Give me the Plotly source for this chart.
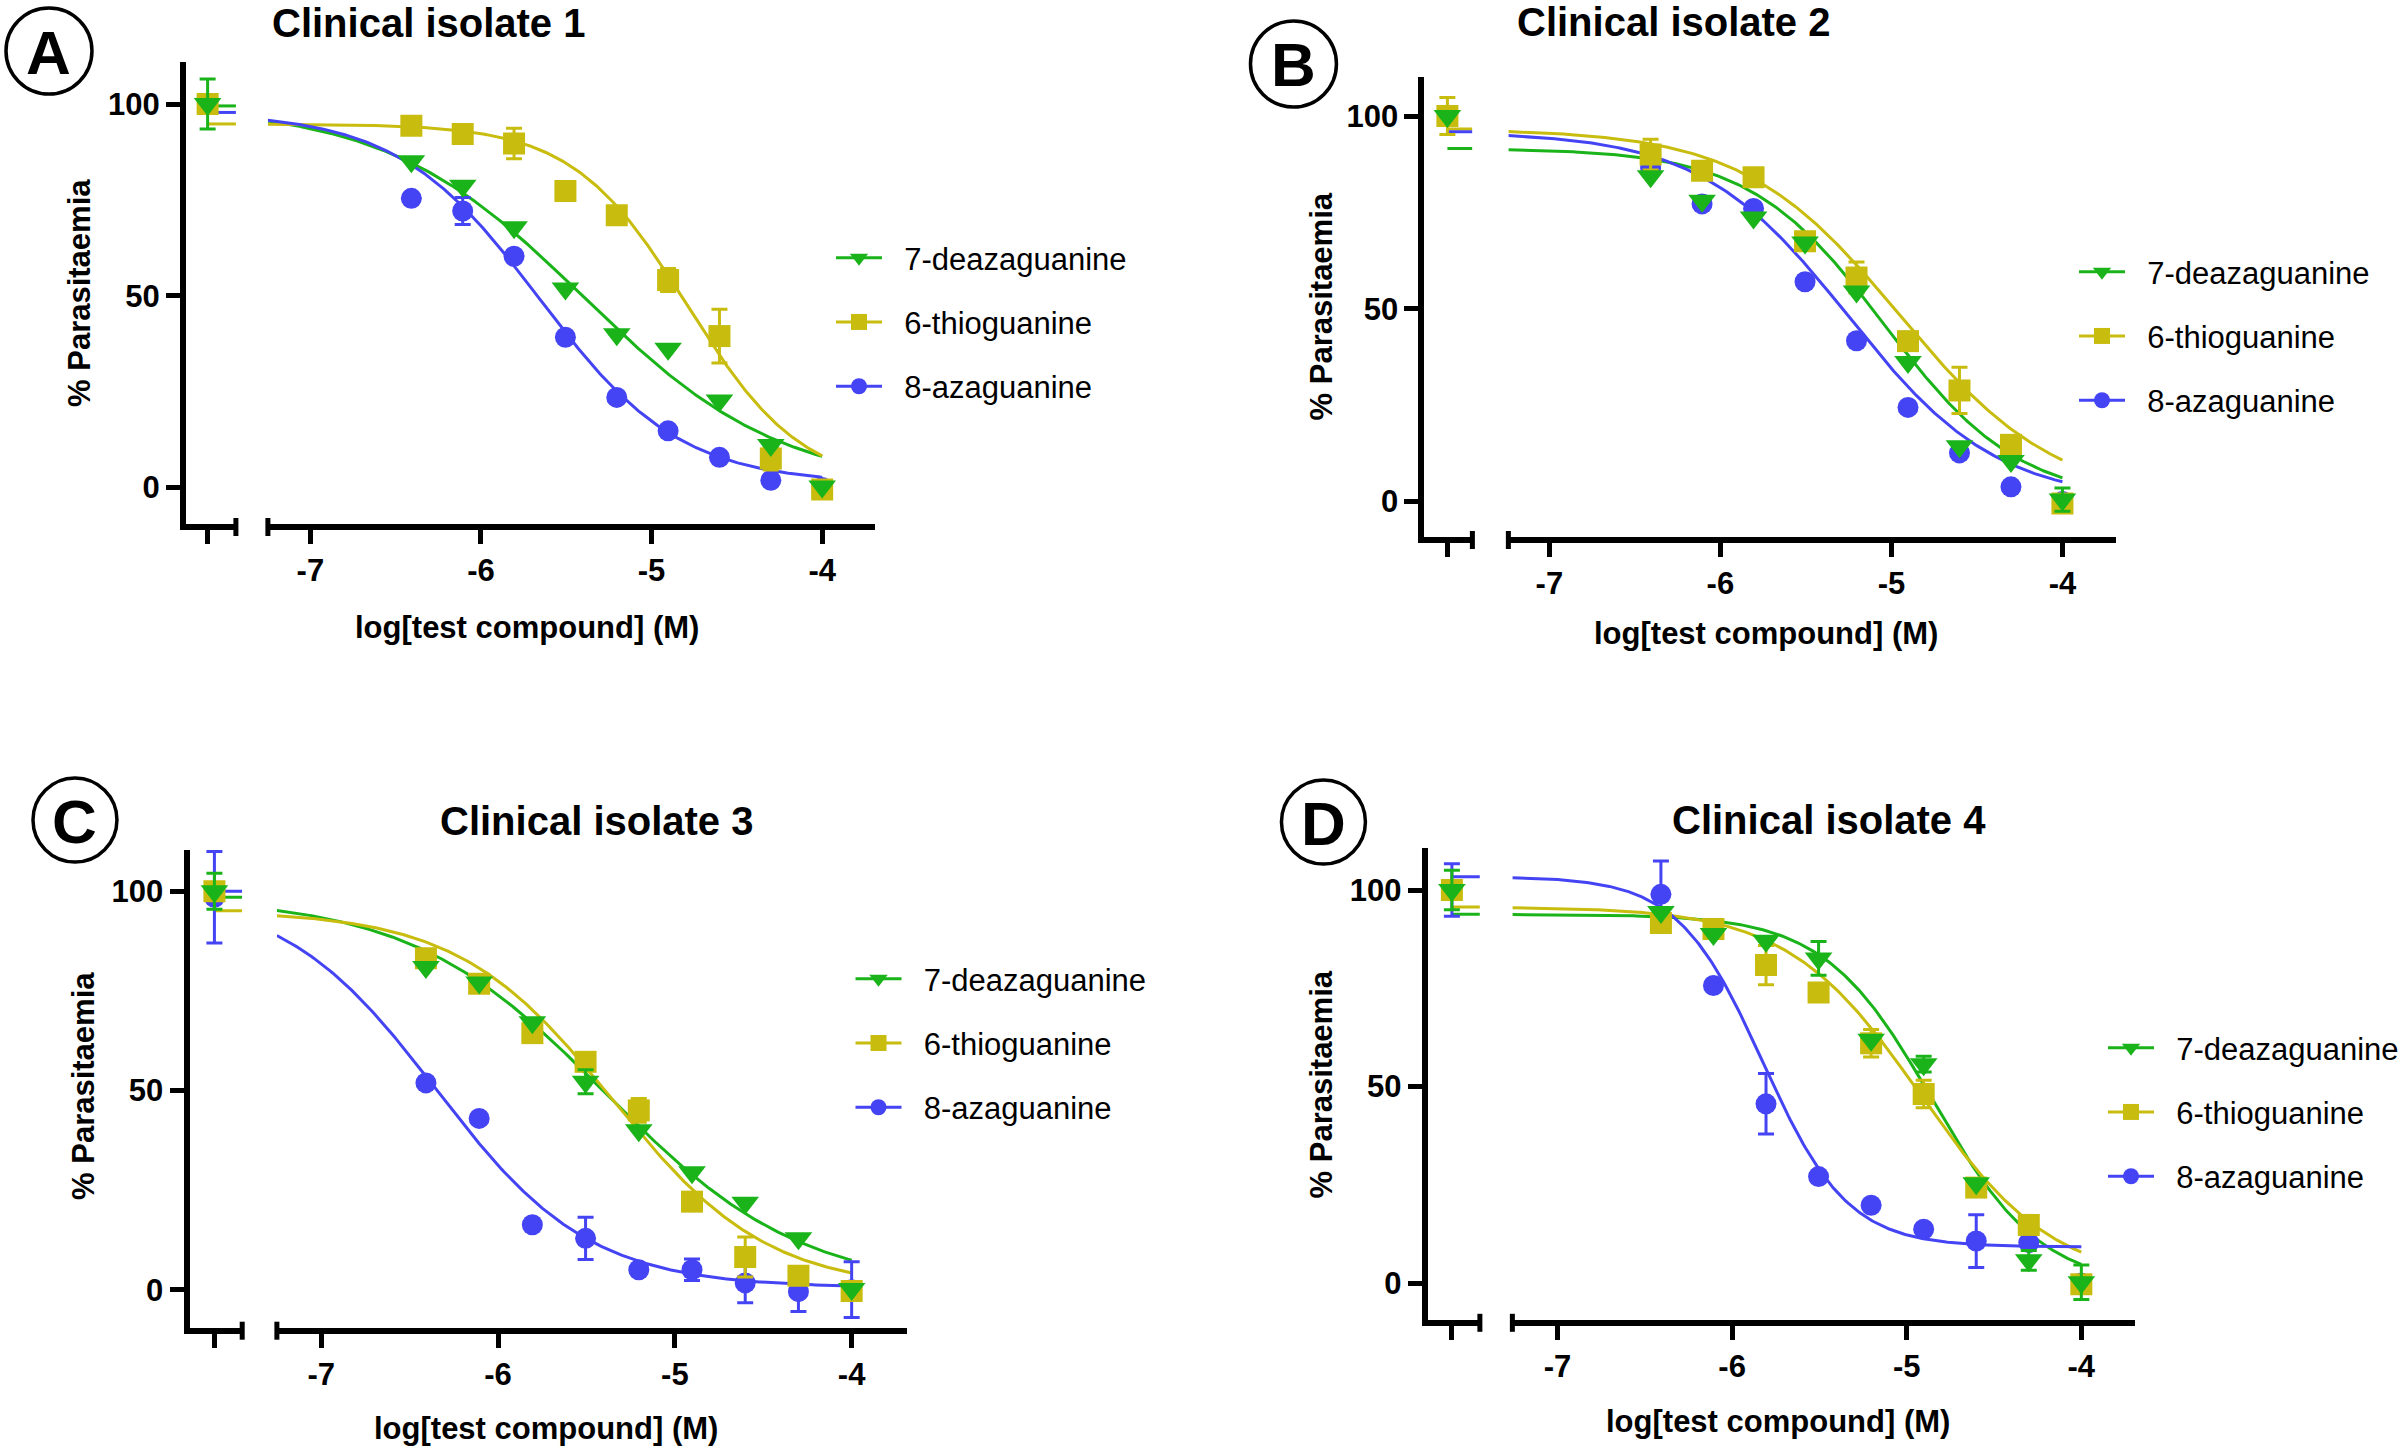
import numpy as np
import plotly.graph_objects as go

W, H = 2404, 1451

# ---------------- data ----------------
log_conc = [-6.408, -6.107, -5.806, -5.505, -5.204, -4.903, -4.602, -4.301, -4.000]
x_ticks = [-7, -6, -5, -4]
x_tick_text = ["-7", "-6", "-5", "-4"]
y_ticks = [0, 50, 100]
compounds = ["7-deazaguanine", "6-thioguanine", "8-azaguanine"]
colors = ["#1AB41A", "#C8BC0E", "#4444F4"]
symbols = ["triangle-down", "square", "circle"]
titles = ["Clinical isolate 1", "Clinical isolate 2", "Clinical isolate 3", "Clinical isolate 4"]
letters = ["A", "B", "C", "D"]
x_title = "log[test compound] (M)"
y_title = "% Parasitaemia"

# isolate 1 (order of compounds: deaza, thio, aza)
iso1_ctrl = [100, 100, 100]
iso1_ctrl_sd = [6.5, 0, 0]
iso1_deaza = [85.1, 78.7, 67.9, 51.9, 40.0, 36.2, 22.7, 11.1, 0.3]
iso1_deaza_sd = [0, 0, 0, 0, 0, 0, 0, 0, 0]
iso1_thio = [94.3, 92.2, 89.7, 77.3, 71.0, 54.1, 39.5, 7.6, -0.5]
iso1_thio_sd = [0, 1, 4, 0, 0, 3, 7, 3, 0]
iso1_aza = [75.4, 72.1, 60.3, 39.2, 23.5, 14.8, 7.9, 1.9, 0.0]
iso1_aza_sd = [0, 3.5, 0, 0, 0, 0, 0, 0, 0]
iso1_top = [99.5, 94.8, 97.8]
iso1_bottom = [0, 0, 1]
iso1_logic50 = [-5.40, -4.79, -5.66]
iso1_hill = [0.75, 1.29, 1.05]

# isolate 2
iso2_ctrl = [100, 100, 100]
iso2_ctrl_sd = [0, 4.8, 0]
iso2_deaza = [84.4, 78.0, 73.7, 67.2, 54.5, 36.2, 14.3, 10.5, 0.5]
iso2_deaza_sd = [0, 0, 0, 0, 0, 0, 0, 0, 3]
iso2_thio = [90.0, 85.8, 84.1, 67.5, 58.1, 41.6, 28.8, 14.7, -0.5]
iso2_thio_sd = [4, 0, 0, 0, 4, 0, 6, 0, 0]
iso2_aza = [86.6, 77.2, 76.0, 57.0, 41.7, 24.4, 12.6, 3.8, 0.0]
iso2_aza_sd = [0, 0, 0, 0, 0, 0, 0, 0, 0]
iso2_top = [91.6, 96.6, 95.9]
iso2_bottom = [0, 0, 0]
iso2_logic50 = [-5.04, -4.95, -5.25]
iso2_hill = [1.10, 0.95, 1.00]

# isolate 3
iso3_ctrl = [100, 100, 98.5]
iso3_ctrl_sd = [4.5, 0, 11.5]
iso3_deaza = [81.0, 77.1, 67.1, 52.2, 40.0, 29.5, 21.8, 12.9, 0.2]
iso3_deaza_sd = [0, 0, 0, 3, 0, 0, 0, 0, 0]
iso3_thio = [83.2, 76.8, 64.4, 57.2, 45.0, 22.1, 8.2, 3.5, -0.3]
iso3_thio_sd = [0, 0, 0, 0, 3, 0, 5, 0, 0]
iso3_aza = [51.9, 43.0, 16.3, 12.9, 5.0, 5.0, 1.7, -0.5, 0.0]
iso3_aza_sd = [0, 0, 0, 5.3, 0, 2.7, 5, 5, 7]
iso3_top = [98.5, 95.1, 100.0]
iso3_bottom = [0, 0, 0.5]
iso3_logic50 = [-5.39, -5.35, -6.35]
iso3_hill = [0.785, 0.99, 1.00]

# isolate 4
iso4_ctrl = [100, 100, 100]
iso4_ctrl_sd = [5, 0, 6.7]
iso4_deaza = [94.4, 88.8, 87.1, 82.6, 61.9, 55.7, 25.4, 5.8, 0.2]
iso4_deaza_sd = [0, 0, 0, 4.3, 0, 2, 0, 2.5, 4.4]
iso4_thio = [91.6, 90.1, 80.9, 73.9, 61.0, 48.1, 24.3, 14.8, -0.3]
iso4_thio_sd = [0, 0, 5, 0, 3.5, 3.5, 0, 0, 0]
iso4_aza = [98.9, 75.7, 45.6, 27.1, 19.8, 13.7, 10.7, 10.3, 0.0]
iso4_aza_sd = [8.5, 0, 7.7, 0, 0, 0, 6.7, 0, 0]
iso4_top = [93.8, 95.7, 103.4]
iso4_bottom = [-1, 0, 9.2]
iso4_logic50 = [-4.85, -4.92, -5.825]
iso4_hill = [1.40, 1.14, 1.785]

isolates = [
    dict(ctrl=iso1_ctrl, ctrl_sd=iso1_ctrl_sd, vals=[iso1_deaza, iso1_thio, iso1_aza],
         sds=[iso1_deaza_sd, iso1_thio_sd, iso1_aza_sd],
         top=iso1_top, bottom=iso1_bottom, ic50=iso1_logic50, hill=iso1_hill),
    dict(ctrl=iso2_ctrl, ctrl_sd=iso2_ctrl_sd, vals=[iso2_deaza, iso2_thio, iso2_aza],
         sds=[iso2_deaza_sd, iso2_thio_sd, iso2_aza_sd],
         top=iso2_top, bottom=iso2_bottom, ic50=iso2_logic50, hill=iso2_hill),
    dict(ctrl=iso3_ctrl, ctrl_sd=iso3_ctrl_sd, vals=[iso3_deaza, iso3_thio, iso3_aza],
         sds=[iso3_deaza_sd, iso3_thio_sd, iso3_aza_sd],
         top=iso3_top, bottom=iso3_bottom, ic50=iso3_logic50, hill=iso3_hill),
    dict(ctrl=iso4_ctrl, ctrl_sd=iso4_ctrl_sd, vals=[iso4_deaza, iso4_thio, iso4_aza],
         sds=[iso4_deaza_sd, iso4_thio_sd, iso4_aza_sd],
         top=iso4_top, bottom=iso4_bottom, ic50=iso4_logic50, hill=iso4_hill),
]

# ---------------- layout (pixels) ----------------
panels = [
    dict(XL=183, YB=527, YT=62, p100=104, p0=487.6, ctrl=207.7, s1e=236, s2s=268, s2e=875,
         p7=310.5, p4=822.5, title=(429, 23), circ=(49, 51, 43), ytitle=(80, 293),
         xtitle=(527, 627), leg=(861, 259)),
    dict(XL=1422, YB=540, YT=77, p100=116, p0=501.5, ctrl=1448, s1e=1473, s2s=1509, s2e=2117,
         p7=1550, p4=2063.3, title=(1674, 22), circ=(1294, 64, 43), ytitle=(1322, 306),
         xtitle=(1767, 633), leg=(2104, 273)),
    dict(XL=186.6, YB=1330.7, YT=850, p100=891.3, p0=1289.7, ctrl=214.5, s1e=242.3, s2s=277,
         s2e=907, p7=321.4, p4=852, title=(597, 821), circ=(75, 820, 42), ytitle=(83, 1086),
         xtitle=(546, 1428), leg=(880.5, 980)),
    dict(XL=1425.4, YB=1322.8, YT=848, p100=890, p0=1283.1, ctrl=1452.5, s1e=1480.5, s2s=1513,
         s2e=2136, p7=1558.2, p4=2082.2, title=(1830, 820), circ=(1324, 822, 42),
         ytitle=(1322, 1084), xtitle=(1779, 1421), leg=(2133.6, 1049)),
]

FONT = "Liberation Sans, Arial, Helvetica, sans-serif"
LW = 6
GAP = "\u00a0\u00a0"  # spacing between legend symbol and label


def px(x):
    return x / W


def py(y):
    return 1 - y / H


fig = go.Figure()
layout = dict(width=W, height=H, margin=dict(l=0, r=0, t=0, b=0),
              paper_bgcolor="white", plot_bgcolor="white", showlegend=True)
shapes = []
annotations = []

for i, (pn, d) in enumerate(zip(panels, isolates)):
    yax = f"y{i + 1}" if i else "y"
    xc_n, xm_n = 2 * i + 1, 2 * i + 2
    xc = f"x{xc_n}" if xc_n > 1 else "x"
    xm = f"x{xm_n}"
    k = (pn["p0"] - pn["p100"]) / 100.0
    dom_bottom = pn["YB"] - LW / 2
    ymin = -(dom_bottom - pn["p0"]) / k
    ymax = 100 + (pn["p100"] - pn["YT"]) / k
    dpx = (pn["p4"] - pn["p7"]) / 3.0
    xmin = -7 - (pn["p7"] - pn["s2s"]) / dpx
    xmax = -4 + (pn["s2e"] - pn["p4"]) / dpx
    c_left = pn["XL"] + LW / 2
    cmin = -(pn["ctrl"] - c_left)
    cmax = pn["s1e"] - pn["ctrl"]

    ax_common = dict(showline=True, linewidth=LW, linecolor="black", ticks="outside",
                     ticklen=14, tickwidth=5, tickcolor="black", showgrid=False,
                     zeroline=False, fixedrange=True)
    tickfont = dict(family=FONT, size=31, color="black", weight="bold")
    layout[f"yaxis{i + 1}" if i else "yaxis"] = dict(
        ax_common, domain=[py(dom_bottom), py(pn["YT"])], range=[ymin, ymax],
        anchor=xc, tickvals=y_ticks, ticktext=[str(v) for v in y_ticks],
        tickfont=tickfont)
    layout[f"xaxis{xc_n}" if xc_n > 1 else "xaxis"] = dict(
        ax_common, domain=[px(c_left), px(pn["s1e"])], range=[cmin, cmax], anchor=yax,
        tickvals=[0], showticklabels=False)
    layout[f"xaxis{xm_n}"] = dict(
        ax_common, domain=[px(pn["s2s"]), px(pn["s2e"])], range=[xmin, xmax], anchor=yax,
        tickvals=x_ticks, ticktext=x_tick_text, tickfont=tickfont)

    # fitted curves (4-parameter logistic, parameters)
    xs = np.linspace(xmin, -4.0, 300)
    for j in range(3):
        ys = d["bottom"][j] + (d["top"][j] - d["bottom"][j]) / (
            1 + 10 ** ((xs - d["ic50"][j]) * d["hill"][j]))
        fig.add_trace(go.Scatter(x=xs, y=ys, mode="lines", xaxis=xm, yaxis=yax,
                                 line=dict(color=colors[j], width=3),
                                 showlegend=False, hoverinfo="skip"))
        # curve plateau shown in the control segment
        fig.add_trace(go.Scatter(x=[0, cmax], y=[d["top"][j], d["top"][j]], mode="lines",
                                 xaxis=xc, yaxis=yax, line=dict(color=colors[j], width=3),
                                 showlegend=False, hoverinfo="skip"))
    # markers: draw 8-aza first, deaza on top
    sizes = [24, 22, 21]
    for j in [2, 1, 0]:
        mk = dict(symbol=symbols[j], size=sizes[j], color=colors[j], line=dict(width=0))
        fig.add_trace(go.Scatter(
            x=log_conc, y=d["vals"][j], mode="markers", xaxis=xm, yaxis=yax, marker=mk,
            error_y=dict(type="data", array=d["sds"][j], visible=True, color=colors[j],
                         thickness=3, width=8),
            showlegend=False))
        fig.add_trace(go.Scatter(
            x=[0], y=[d["ctrl"][j]], mode="markers", xaxis=xc, yaxis=yax, marker=mk,
            error_y=dict(type="data", array=[d["ctrl_sd"][j]], visible=True, color=colors[j],
                         thickness=3, width=8),
            showlegend=False))
    # legend entries
    lname = "legend" if i == 0 else f"legend{i + 1}"
    for j in range(3):
        fig.add_trace(go.Scatter(
            x=[None], y=[None], mode="lines+markers", xaxis=xm, yaxis=yax,
            name=GAP + compounds[j], legend=lname, legendgroup=f"g{i}{j}",
            line=dict(color=colors[j], width=3),
            marker=dict(symbol=symbols[j], size=sizes[j] - 2, color=colors[j])))
    lx, ly = pn["leg"]
    layout[lname] = dict(x=px(lx - 30), y=py(ly - 28), xanchor="left", yanchor="top",
                         font=dict(family=FONT, size=31, color="black"),
                         bgcolor="rgba(0,0,0,0)", borderwidth=0, tracegroupgap=21,
                         itemwidth=46, traceorder="grouped")

    # axis break caps
    for cx in (pn["s1e"], pn["s2s"]):
        shapes.append(dict(type="line", xref="paper", yref="paper", x0=px(cx), x1=px(cx),
                           y0=py(pn["YB"] - 9), y1=py(pn["YB"] + 9),
                           line=dict(color="black", width=5)))
    # panel letter circle
    cx, cy, r = pn["circ"]
    shapes.append(dict(type="circle", xref="paper", yref="paper", x0=px(cx - r), x1=px(cx + r),
                       y0=py(cy + r), y1=py(cy - r), line=dict(color="black", width=3.5)))
    annotations.append(dict(text=letters[i], x=px(cx), y=py(cy + 1), xref="paper", yref="paper",
                            showarrow=False, xanchor="center", yanchor="middle",
                            font=dict(family=FONT, size=62, color="black", weight="bold")))
    tx, ty = pn["title"]
    annotations.append(dict(text=titles[i], x=px(tx), y=py(ty), xref="paper", yref="paper",
                            showarrow=False, xanchor="center", yanchor="middle",
                            font=dict(family=FONT, size=40, color="black", weight="bold")))
    ax_, ay_ = pn["xtitle"]
    annotations.append(dict(text=x_title, x=px(ax_), y=py(ay_), xref="paper", yref="paper",
                            showarrow=False, xanchor="center", yanchor="middle",
                            font=dict(family=FONT, size=31, color="black", weight="bold")))
    yx_, yy_ = pn["ytitle"]
    annotations.append(dict(text=y_title, x=px(yx_), y=py(yy_), xref="paper", yref="paper",
                            showarrow=False, xanchor="center", yanchor="middle", textangle=-90,
                            font=dict(family=FONT, size=31, color="black", weight="bold")))

layout["shapes"] = shapes
layout["annotations"] = annotations
fig.update_layout(**layout)
fig.write_html("out.html", config={"displayModeBar": False},
               post_script="document.body.style.margin='0';")
